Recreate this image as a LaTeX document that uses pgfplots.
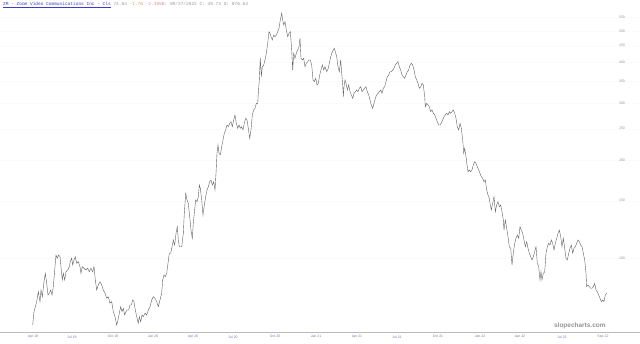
\documentclass[border=0pt]{standalone}
\usepackage{pgfplots}
\pgfplotsset{compat=1.18}
\usepackage{fontspec}
\setmainfont{Liberation Sans}
\newfontfamily\monofont{Liberation Mono}
\definecolor{linegray}{RGB}{95,95,95}
\definecolor{xlab}{RGB}{120,120,180}
\definecolor{ylab}{RGB}{150,150,150}
\definecolor{titleblue}{RGB}{60,60,200}
\definecolor{chgorange}{RGB}{230,150,100}
\definecolor{pctpink}{RGB}{235,140,140}
\begin{document}
\begin{tikzpicture}
\begin{axis}[
  scale only axis, width=640bp, height=332bp,
  xmin=0, xmax=640, ymode=log, ymin=59.2, ymax=622.1,
  axis line style={draw=none},
  tick style={draw=none},
  xtick={33,72,113,153,193,233,275,316,357,397,438,480,520,562,603},
  xticklabels={Apr 19,Jul 19,Oct 19,Jan 20,Apr 20,Jul 20,Oct 20,Jan 21,Apr 21,Jul 21,Oct 21,Jan 22,Apr 22,Jul 22,Sep 22},
  xticklabel style={font=\fontsize{3.5}{4}\selectfont, text=xlab},
  ytick={100,150,200,250,300,350,400,450,500,550},
  yticklabels={100,150,200,250,300,350,400,450,500,550},
  yticklabel pos=right,
  yticklabel style={font=\fontsize{3.5}{4}\selectfont, text=ylab, anchor=center, xshift=-18bp},
  ymajorgrids, grid style={gray!3, line width=0.3bp},
  clip=false,
]
\addplot[linegray, line width=0.4bp] coordinates {
(32.7,62.2)(34,68.4)(36.7,73.4)(38.3,78.8)(40,73.4)(41,79.7)(42.3,76.0)(44,84.5)(45.3,89.7)(46.7,83.6)(48,76.9)(49.3,77.9)(50.7,79.7)(52,76.9)(53.3,81.6)(55,94.0)(56,102.1)(57.3,99.8)(58.7,102.1)(60,100.9)(61.3,91.9)(62.3,85.6)(63.3,89.7)(64.7,85.6)(66,90.7)(67.7,91.9)(69.3,94.0)(70.3,97.4)(71.7,99.8)(72.7,95.2)(74,98.6)(75.3,100.9)(76.7,96.3)(78.3,97.4)(80,94.0)(81,89.7)(82.3,94.0)(84,93.0)(85.7,91.9)(87.7,93.0)(89.3,90.7)(91,93.0)(92.7,90.7)(94,94.0)(95.3,85.6)(96.7,79.7)(98.3,82.6)(100,84.5)(101.7,82.6)(103.3,79.7)(105,77.9)(106.7,75.2)(108.3,76.0)(110,72.6)(111.7,73.4)(113.3,68.4)(115,66.0)(116.7,62.2)(118,64.5)(119.3,67.6)(120.7,70.8)(122,68.4)(123.3,70.0)(124.7,66.8)(126,68.4)(127.3,69.2)(128.7,69.2)(130,71.7)(131.3,71.7)(132.7,74.3)(134,73.4)(135.3,69.2)(136.7,66.0)(138.3,63.0)(139.3,66.0)(140.7,63.7)(142,66.8)(143.3,66.0)(145,67.6)(146.7,66.8)(148.3,69.2)(150,70.8)(151.7,74.3)(153.3,76.0)(155,75.2)(156.7,73.4)(158.3,70.8)(160,74.3)(161.7,77.9)(162.7,85.6)(164,88.7)(165.3,87.6)(166.7,89.7)(168,96.3)(169.3,103.4)(170.7,103.4)(172,108.3)(173.3,113.6)(174.7,109.6)(176,119.1)(177.3,124.8)(178.3,113.6)(179.3,108.3)
(181.7,108.3)(183.3,119.1)(184.3,137.3)(185.7,158.2)(187,150.8)(188.3,147.3)(189.7,134.0)(191,121.9)(192.3,115.0)(193.3,127.9)(194.3,137.3)(195.7,150.8)(197,149.0)(198.3,154.4)(199.3,167.7)(200.3,163.9)(201.7,150.8)(203,135.6)(204.3,145.6)(205.7,154.4)(207,161.9)(208.3,165.7)(209.7,171.7)(211,173.8)(212.3,167.7)(213.7,171.7)(215,161.9)(216,182.2)(217,210.0)(218,222.7)(219,210.0)(220.3,207.5)(221.7,220.0)(223,230.7)(224.3,241.9)(225.7,247.7)(227,256.6)(228.3,253.5)(229.7,259.7)(231,262.7)(232.3,253.5)(233.7,265.8)(235,275.4)(236.3,259.7)(237.7,250.7)(239,256.6)(240.3,250.7)(241.7,253.5)(243,247.7)(244.3,259.7)(245.7,269.1)(247,265.8)(248.3,250.7)(249.7,233.5)(251,247.7)(252.3,275.4)(253.7,285.4)(255,288.8)(256.3,299.2)(257.7,299.2)(258.3,321.2)(259.3,353.0)(260.3,411.6)(261.3,361.3)(262.3,387.8)(263.7,392.5)(265,406.7)(266.3,426.4)(267.7,457.8)(269,497.0)(270,491.4)(271,479.7)(272.3,468.6)(273.7,485.5)(275,479.7)(276.3,485.5)(277.7,497.0)(279,509.1)(280.3,539.9)(281.7,566.2)(282.7,539.9)(283.7,521.1)(285,533.5)(286.3,503.0)(287.7,479.7)(289,491.4)(290.3,497.0)(291.7,436.5)(292.7,378.9)(293.7,426.4)(295,411.6)(296.3,426.4)(297.7,436.5)(299,446.9)(300,474.3)(301,411.6)(302.3,406.7)(303.7,411.6)(305,387.8)(306.3,397.3)(307.7,401.8)(309,406.7)(310.3,406.7)(311.7,392.5)(313,353.0)(314.3,348.7)(315.7,357.2)(317,340.7)(318.3,344.8)(319.7,365.7)(321,378.9)(322.3,392.5)(323.7,378.9)(325,387.8)(326.7,374.3)(328.3,383.5)(330,406.7)(331.7,426.4)(333.3,436.5)(334.3,441.8)
(335.3,431.3)(336.7,416.3)(338,387.8)(339.3,374.3)(340.7,406.7)(342,361.3)(342.7,340.7)(343.3,313.6)(344,336.6)(345,353.0)(346,344.8)(347.3,328.8)(348.7,340.7)(350,324.9)(351.3,317.4)(352.7,310.0)(354,321.2)(355.3,324.9)(356.7,328.8)(358,324.9)(359.3,332.8)(360.7,336.6)(362,324.9)(363.3,328.8)(364.7,332.8)(366,336.6)(367.3,324.9)(368.7,317.4)(370,306.3)(371.3,295.6)(372.7,288.8)(374,299.2)(375.3,310.0)(376.7,317.4)(378,321.2)(379.3,324.9)(380.7,328.8)(382,321.2)(383.3,332.8)(384.7,336.6)(386,348.7)(387.3,361.3)(388.7,365.7)(390,374.3)(391.3,374.3)(392.7,378.9)(394,383.5)(395.3,392.5)(396.7,397.3)(398,401.8)(399.3,387.8)(400.7,378.9)(402,365.7)(403.3,361.3)(404.7,357.2)(406,365.7)(407.3,374.3)(408.7,378.9)(410,392.5)(411.3,397.3)(412.7,392.5)(414,378.9)(415.3,361.3)(416.7,353.0)(418,344.8)(419.3,332.8)(420.7,336.6)(422,344.8)(423.3,340.7)(424.7,313.6)(425.3,292.1)(426.7,299.2)(428,295.6)(429.3,292.1)(430.7,281.9)(432,285.4)(433.3,278.8)(434.7,275.4)(436,269.1)(437.3,262.7)(438.7,256.6)(440,256.6)(441.3,259.7)(442.7,265.8)(444,272.1)(445.3,275.4)(446.7,278.8)(448,275.4)(449.3,281.9)(450.7,278.8)(452,281.9)(453.3,285.4)(454.7,278.8)(456,269.1)(457.3,253.5)(458.7,247.7)(460,259.7)(461.3,250.7)(462.7,230.7)(463.7,210.0)(464.7,217.5)(466,205.0)(467,193.3)(468,184.3)(469.3,186.6)(470.7,184.3)(472,186.6)(473.3,193.3)(474.7,197.9)(476,195.6)(477.3,191.0)(478.7,186.6)(480,182.2)(481.3,177.9)(482.7,175.9)(484,171.7)(485.3,173.8)(486.7,161.9)(488,156.3)(489.3,152.7)(490,147.3)
(491.3,140.5)(492.7,147.3)(494,154.4)(495.3,138.8)(496.7,145.6)(498,149.0)(499.3,143.8)(500.7,145.6)(502,138.8)(503.3,130.9)(504,121.9)(505.3,130.9)(506.7,123.4)(508,116.3)(509.3,108.3)(510.7,107.1)(512,95.2)(513.3,103.4)(514.7,111.0)(516,115.0)(517.3,117.7)(518.7,115.0)(520,124.8)(521.3,121.9)(522.7,119.1)(524,113.6)(525.3,108.3)(526.7,112.2)(528,107.1)(529.3,103.4)(530.7,100.9)(532,98.6)(533.3,100.9)(534.7,104.6)(536,108.3)(537.3,96.3)(538.7,94.0)(540,85.6)(541,90.7)(542,85.6)(543.3,89.7)(544.7,90.7)(546,103.4)(547.3,108.3)(548.7,111.0)(550,109.6)(551.3,113.6)(552.7,111.0)(554,105.8)(555.3,111.0)(556.7,115.0)(558,119.1)(559.3,121.9)(560.7,116.3)(562,108.3)(563.3,115.0)(564.7,107.1)(566,99.8)(567.3,98.6)(568.7,103.4)(570,107.1)(571.3,109.6)(572.7,103.4)(574,107.1)(575.3,108.3)(576.7,111.0)(578,113.6)(579.3,112.2)(580.7,109.6)(582,108.3)(583.3,103.4)(584.7,98.6)(586,89.7)(586.7,81.6)(588,82.6)(589.3,81.6)(590.7,80.7)(592,80.7)(593.3,81.6)(594.7,83.6)(596,79.7)(597.3,78.8)(598.7,76.9)(600,75.2)(601.3,73.4)(602.7,74.3)(604,73.4)(605.3,76.9)(606.7,77.9)
};
\draw[gray!55, line width=0.8bp] (rel axis cs:0,0) -- (rel axis cs:1,0);
\node[anchor=base west, inner sep=0pt, xshift=3bp, yshift=-6bp, font=\monofont\fontsize{4.5}{5}\selectfont] at (rel axis cs:0,1)
  {\textcolor{titleblue}{\underline{ZM - Zoom Video Communications Inc - Cls}} \textcolor{ylab}{74.84} \textcolor{chgorange}{-1.76} \textcolor{pctpink}{-2.30\%}\textcolor{ylab}{D: 09/27/2022 C: 49.73 O: 076.64}};
\node[anchor=center, inner sep=0pt, text=gray!85, font=\bfseries\fontsize{6.5}{7}\selectfont] at (rel axis cs:0.906,0.02) {slopecharts.com};
\end{axis}
\pgfresetboundingbox
\path[use as bounding box] ([yshift=-11bp]current axis.south west) rectangle (current axis.north east);
\end{tikzpicture}
\end{document}
